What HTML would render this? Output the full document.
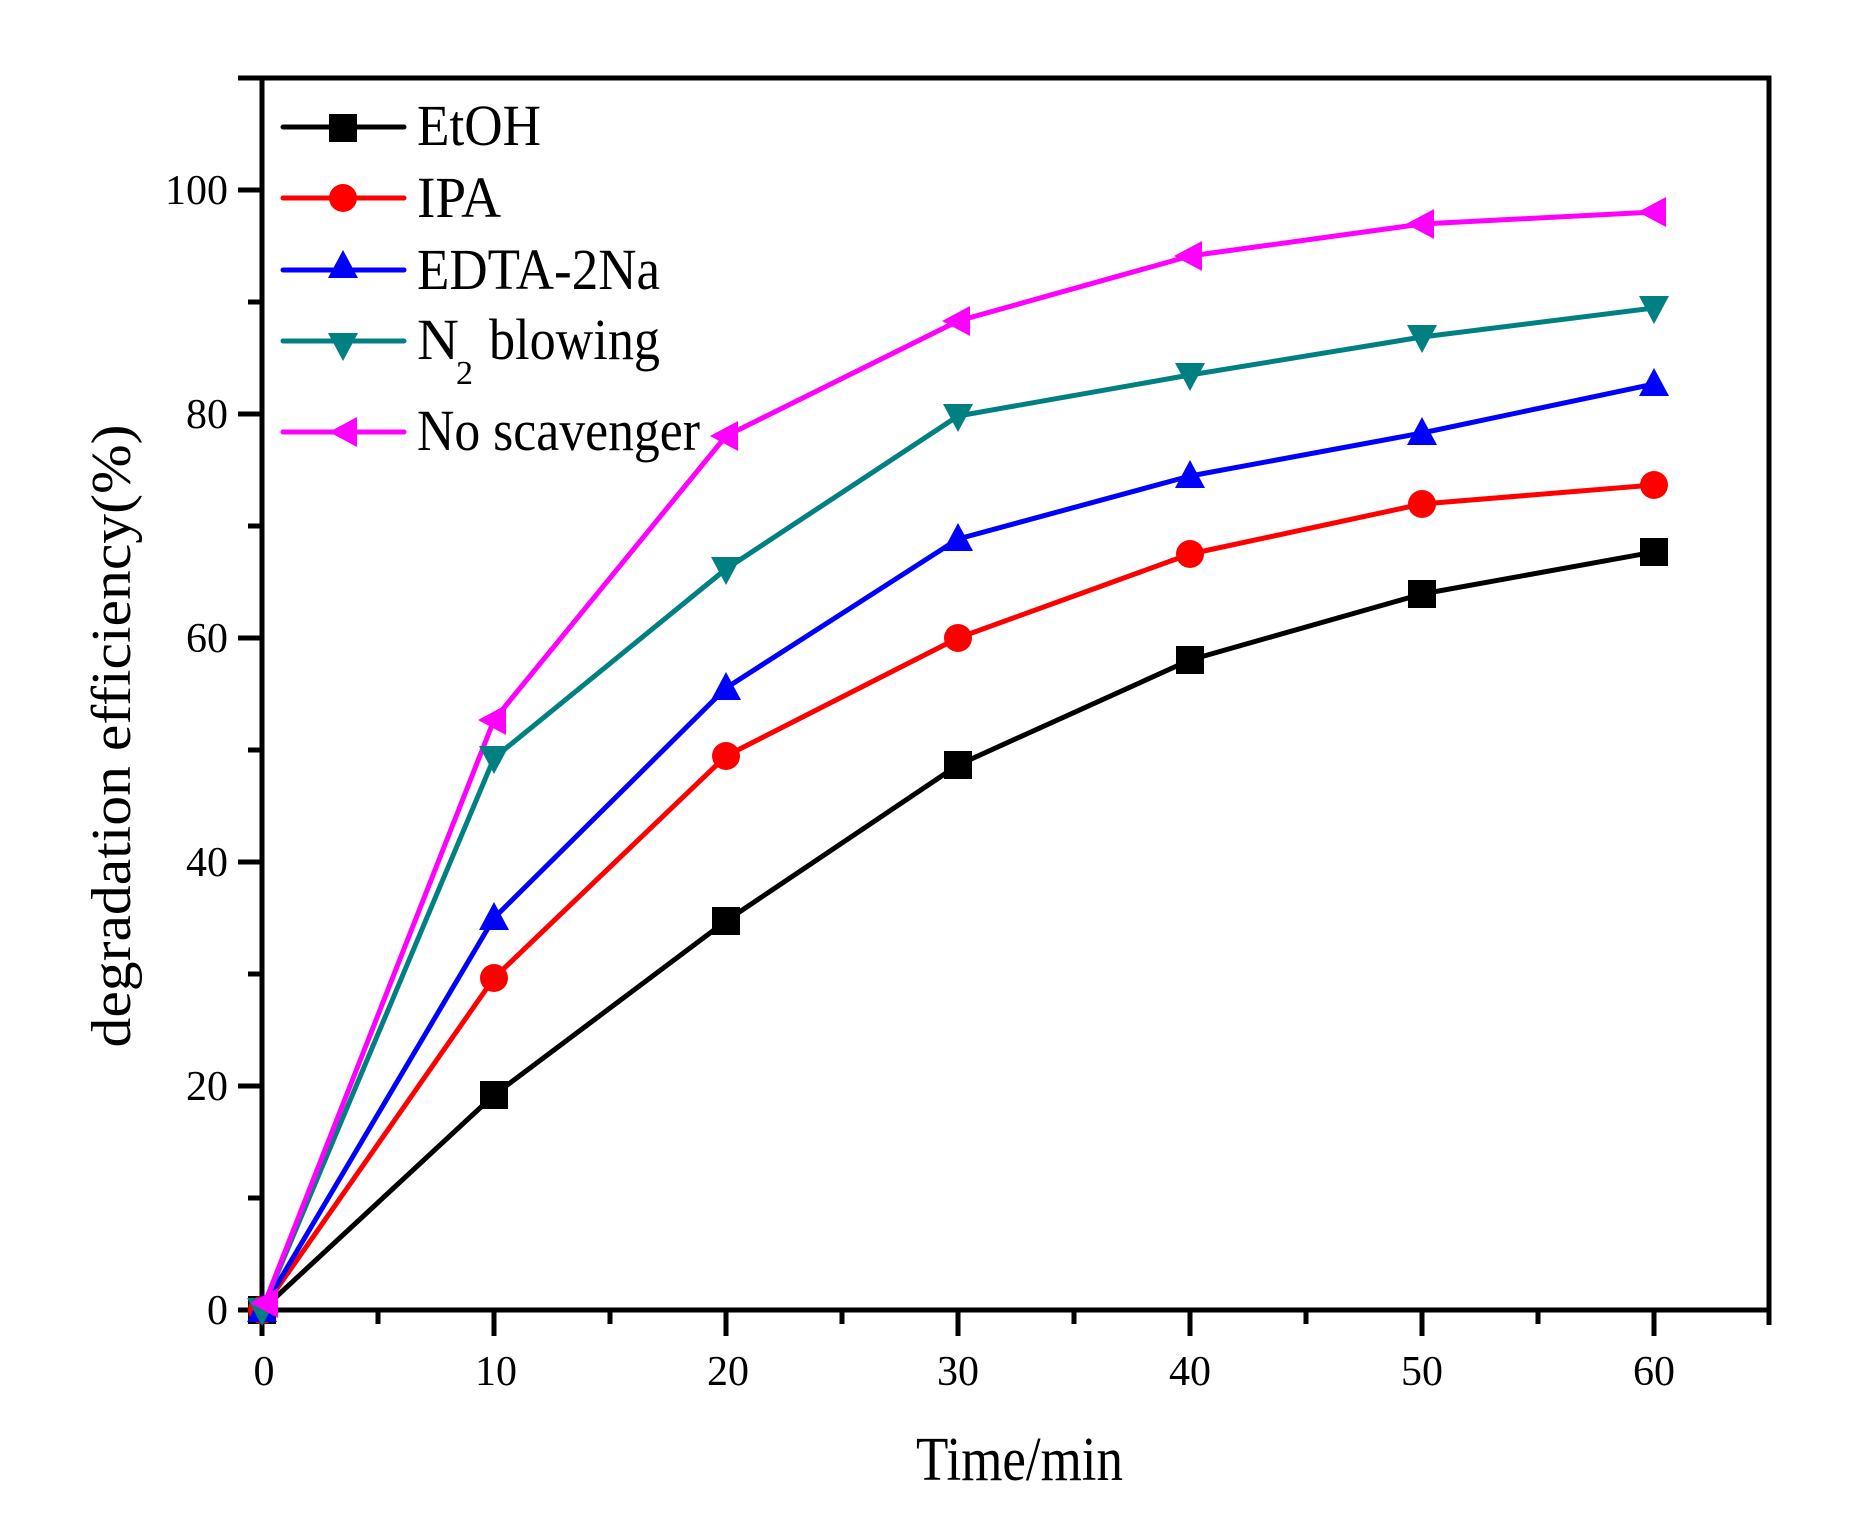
<!DOCTYPE html>
<html><head><meta charset="utf-8"><style>html,body{margin:0;padding:0;background:#fff}svg{display:block}</style></head>
<body>
<svg width="1869" height="1522" viewBox="0 0 1869 1522" xmlns="http://www.w3.org/2000/svg" font-family="'Liberation Serif', serif">
<rect width="1869" height="1522" fill="#fff"/>
<g stroke="#000" stroke-width="5" fill="none" stroke-linecap="butt">
<rect x="262" y="78" width="1507" height="1232"/>
<path d="M262 1310V1336M494 1310V1336M726 1310V1336M958 1310V1336M1190 1310V1336M1422 1310V1336M1654 1310V1336M1769 1310V1325"/>
<path d="M378 1310V1324M610 1310V1324M842 1310V1324M1074 1310V1324M1306 1310V1324M1538 1310V1324"/>
<path d="M238 1310H262M238 1086H262M238 862H262M238 638H262M238 414H262M238 190H262M238 78H262"/>
<path d="M248 1198H262M248 974H262M248 750H262M248 526H262M248 302H262"/>
</g>
<g font-size="42" text-anchor="end">
<text x="228" y="1324">0</text>
<text x="228" y="1100">20</text>
<text x="228" y="876">40</text>
<text x="228" y="652">60</text>
<text x="228" y="428">80</text>
<text x="228" y="204">100</text>
</g>
<g font-size="42" text-anchor="middle">
<text x="264" y="1385">0</text>
<text x="496" y="1385">10</text>
<text x="728" y="1385">20</text>
<text x="958" y="1385">30</text>
<text x="1190" y="1385">40</text>
<text x="1422" y="1385">50</text>
<text x="1654" y="1385">60</text>
</g>
<text x="916" y="1480" font-size="62" textLength="207" lengthAdjust="spacingAndGlyphs">Time/min</text>
<text transform="translate(130,736) rotate(-90)" font-size="56" text-anchor="middle" textLength="623" lengthAdjust="spacingAndGlyphs">degradation efficiency(%)</text>

<defs>
<rect id="sq" x="-14" y="-14" width="28" height="28" fill="#000"/>
<circle id="ci" r="14" fill="#f00"/>
<path id="tu" d="M0 -16L15 12H-15Z" fill="#00f"/>
<path id="td" d="M0 16L15 -12H-15Z" fill="#008080"/>
<path id="tl" d="M-16 0L12 -15V15Z" fill="#f0f"/>
</defs>

<g fill="none" stroke-width="5" stroke-linejoin="round">
<polyline stroke="#000" points="262,1310 494,1095 726,921 958,765 1190,660 1422,594 1654,552"/>
<polyline stroke="#f00" points="262,1310 494,978 726,756 958,638 1190,554 1422,504 1654,485"/>
<polyline stroke="#00f" points="262,1310 494,918 726,688 958,539 1190,476 1422,433 1654,384"/>
<polyline stroke="#008080" points="262,1310 494,758 726,569 958,416 1190,375 1422,337 1654,308"/>
<polyline stroke="#f0f" points="262,1310 494,720 726,436 958,321 1190,256 1422,224 1654,212"/>
</g>
<g>
<use href="#sq" x="262" y="1310"/><use href="#sq" x="494" y="1095"/><use href="#sq" x="726" y="921"/><use href="#sq" x="958" y="765"/><use href="#sq" x="1190" y="660"/><use href="#sq" x="1422" y="594"/><use href="#sq" x="1654" y="552"/>
<use href="#ci" x="262" y="1310"/><use href="#ci" x="494" y="978"/><use href="#ci" x="726" y="756"/><use href="#ci" x="958" y="638"/><use href="#ci" x="1190" y="554"/><use href="#ci" x="1422" y="504"/><use href="#ci" x="1654" y="485"/>
<use href="#tu" x="262" y="1310"/><use href="#tu" x="494" y="918"/><use href="#tu" x="726" y="688"/><use href="#tu" x="958" y="539"/><use href="#tu" x="1190" y="476"/><use href="#tu" x="1422" y="433"/><use href="#tu" x="1654" y="384"/>
<use href="#td" x="262" y="1310"/><use href="#td" x="494" y="758"/><use href="#td" x="726" y="569"/><use href="#td" x="958" y="416"/><use href="#td" x="1190" y="375"/><use href="#td" x="1422" y="337"/><use href="#td" x="1654" y="308"/>
<use href="#tl" x="266" y="1303"/><use href="#tl" x="494" y="720"/><use href="#tl" x="726" y="436"/><use href="#tl" x="958" y="321"/><use href="#tl" x="1190" y="256"/><use href="#tl" x="1422" y="224"/><use href="#tl" x="1654" y="212"/>
</g>

<g stroke-width="5" stroke-linecap="round">
<line x1="283" y1="127" x2="404" y2="127" stroke="#000"/>
<line x1="283" y1="198" x2="404" y2="198" stroke="#f00"/>
<line x1="283" y1="270" x2="404" y2="270" stroke="#00f"/>
<line x1="283" y1="341" x2="404" y2="341" stroke="#008080"/>
<line x1="283" y1="432" x2="404" y2="432" stroke="#f0f"/>
</g>
<use href="#sq" x="343" y="128"/>
<use href="#ci" x="343" y="198"/>
<use href="#tu" x="343" y="266"/>
<use href="#td" x="343" y="345"/>
<use href="#tl" x="345" y="432"/>
<g font-size="58">
<text x="417" y="145" textLength="124" lengthAdjust="spacingAndGlyphs">EtOH</text>
<text x="417" y="217" textLength="84" lengthAdjust="spacingAndGlyphs">IPA</text>
<text x="417" y="289" textLength="243" lengthAdjust="spacingAndGlyphs">EDTA-2Na</text>
<text x="417" y="359">N</text><text x="456" y="384" font-size="34">2</text>
<text x="489" y="359" textLength="171" lengthAdjust="spacingAndGlyphs">blowing</text>
<text x="417" y="450" textLength="283" lengthAdjust="spacingAndGlyphs">No scavenger</text>
</g>
</svg>
</body></html>
